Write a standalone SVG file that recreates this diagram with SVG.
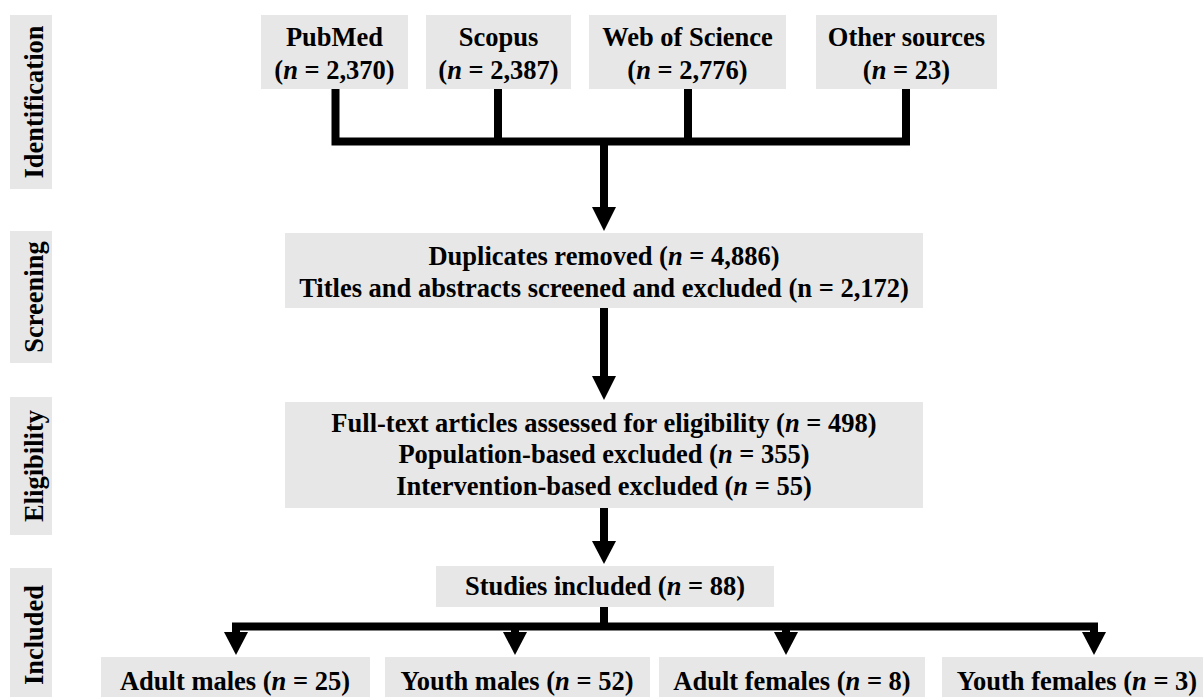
<svg xmlns="http://www.w3.org/2000/svg" width="1203" height="697" viewBox="0 0 1203 697">
<style>
.box{fill:#e7e7e7}
.t{font-family:'Liberation Serif','DejaVu Serif',serif;font-weight:700;font-size:26.5px;fill:#000;text-anchor:middle}
.i{font-style:italic}
.ln{fill:none;stroke:#000;stroke-width:8;stroke-linejoin:miter;stroke-linecap:butt}
.ah{fill:#000}
</style>
<rect width="1203" height="697" fill="#fff"/>
<g id="side-identification"><rect class="box" x="10" y="15" width="42" height="174"/><text class="t" transform="translate(43,102) rotate(-90)">Identification</text></g>
<g id="side-screening"><rect class="box" x="10" y="231" width="42" height="132"/><text class="t" transform="translate(43,297) rotate(-90)">Screening</text></g>
<g id="side-eligibility"><rect class="box" x="10" y="397" width="42" height="138"/><text class="t" transform="translate(43,466) rotate(-90)">Eligibility</text></g>
<g id="side-included"><rect class="box" x="10" y="568" width="42" height="129"/><text class="t" transform="translate(43,635) rotate(-90)">Included</text></g>

<g id="pubmed"><rect class="box" x="261" y="15" width="147" height="74"/><text class="t" x="334.5" y="46">PubMed</text><text class="t" x="334.5" y="79">(<tspan class="i">n</tspan> = 2,370)</text></g>
<g id="scopus"><rect class="box" x="426" y="15" width="145" height="74"/><text class="t" x="498.5" y="46">Scopus</text><text class="t" x="498.5" y="79">(<tspan class="i">n</tspan> = 2,387)</text></g>
<g id="wos"><rect class="box" x="589" y="15" width="197" height="74"/><text class="t" x="687.5" y="46">Web of Science</text><text class="t" x="687.5" y="79">(<tspan class="i">n</tspan> = 2,776)</text></g>
<g id="other"><rect class="box" x="816" y="15" width="181" height="74"/><text class="t" x="906.5" y="46">Other sources</text><text class="t" x="906.5" y="79">(<tspan class="i">n</tspan> = 23)</text></g>

<g id="screening"><rect class="box" x="285" y="233" width="638" height="75"/><text class="t" x="604" y="265">Duplicates removed (<tspan class="i">n</tspan> = 4,886)</text><text class="t" x="604" y="297">Titles and abstracts screened and excluded (n = 2,172)</text></g>
<g id="eligibility"><rect class="box" x="285" y="402" width="638" height="106"/><text class="t" x="604" y="432">Full-text articles assessed for eligibility (<tspan class="i">n</tspan> = 498)</text><text class="t" x="604" y="463">Population-based excluded (<tspan class="i">n</tspan> = 355)</text><text class="t" x="604" y="495">Intervention-based excluded (<tspan class="i">n</tspan> = 55)</text></g>
<g id="studies"><rect class="box" x="436" y="566" width="338" height="41"/><text class="t" x="605" y="595">Studies included (<tspan class="i">n</tspan> = 88)</text></g>

<g id="adult-males"><rect class="box" x="101" y="657" width="269" height="40"/><text class="t" x="235" y="690">Adult males (<tspan class="i">n</tspan> = 25)</text></g>
<g id="youth-males"><rect class="box" x="385" y="657" width="265" height="40"/><text class="t" x="517" y="690">Youth males (<tspan class="i">n</tspan> = 52)</text></g>
<g id="adult-females"><rect class="box" x="659" y="657" width="266" height="40"/><text class="t" x="792" y="690">Adult females (<tspan class="i">n</tspan> = 8)</text></g>
<g id="youth-females"><rect class="box" x="942" y="657" width="261" height="40"/><text class="t" x="1077" y="690">Youth females (<tspan class="i">n</tspan> = 3)</text></g>

<g id="connectors">
<path class="ln" d="M335.5 89 V141.5 H906 V89"/>
<path class="ln" d="M498 89 V141.5 M688 89 V141.5 M604 141.5 V209"/>
<polygon class="ah" points="592,207 616,207 604,231"/>
<path class="ln" d="M604 308 V378"/>
<polygon class="ah" points="592,376 616,376 604,400"/>
<path class="ln" d="M604 508 V543"/>
<polygon class="ah" points="592,541 616,541 604,564"/>
<path class="ln" d="M236 634 V626.5 H1094 V634"/>
<path class="ln" d="M604 607 V626.5 M515 626.5 V634 M786 626.5 V634"/>
<polygon class="ah" points="224,632 248,632 236,655"/>
<polygon class="ah" points="503,632 527,632 515,655"/>
<polygon class="ah" points="774,632 798,632 786,655"/>
<polygon class="ah" points="1082,632 1106,632 1094,655"/>
</g>
</svg>
